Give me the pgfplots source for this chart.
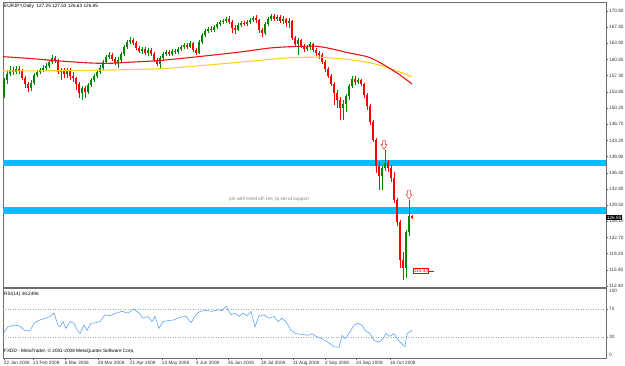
\documentclass[border=0pt]{standalone}
\usepackage{pgfplots}
\pgfplotsset{compat=1.18}
\usepackage{pgfplotstable}
\usepackage{fontspec}
\setmainfont{Liberation Sans}

\definecolor{cup}{RGB}{0,135,0}
\definecolor{cdn}{RGB}{255,0,0}
\definecolor{band}{RGB}{0,191,255}
\definecolor{maR}{RGB}{235,20,20}
\definecolor{maY}{RGB}{255,208,40}
\definecolor{rsic}{RGB}{90,165,255}
\definecolor{frm}{RGB}{110,110,110}
\newcommand\tf{\fontsize{4.7}{5}\selectfont}

\pgfdeclareplotmark{dnarrow}{%
 \pgfpathmoveto{\pgfqpoint{-1.3pt}{4.5pt}}%
 \pgfpathlineto{\pgfqpoint{-1.3pt}{0.5pt}}%
 \pgfpathlineto{\pgfqpoint{-3.2pt}{0.5pt}}%
 \pgfpathlineto{\pgfqpoint{0pt}{-4.5pt}}%
 \pgfpathlineto{\pgfqpoint{3.2pt}{0.5pt}}%
 \pgfpathlineto{\pgfqpoint{1.3pt}{0.5pt}}%
 \pgfpathlineto{\pgfqpoint{1.3pt}{4.5pt}}%
 \pgfpathclose
 \pgfusepathqfillstroke}

\pgfplotsset{candle/.style 2 args={draw=none, mark=none, forget plot,
  error bars/.cd, y dir=plus, y explicit, error mark=none,
  error bar style={draw=#1, line width=#2}}}

% up (bullish) candles: x open high low close
\pgfplotstableread{
x o h l c
4 152.97 156.58 152.33 156.15
7 156.15 158.27 155.30 157.43
10 157.43 159.12 157.00 158.27
16 157.85 159.12 157.43 158.49
31 154.45 156.15 153.82 155.52
34 155.52 157.64 155.09 157.21
37 157.21 158.27 156.79 157.85
40 157.85 158.70 157.43 158.27
43 158.27 159.34 157.85 158.70
46 158.70 159.76 158.27 159.12
49 159.12 160.40 158.70 159.97
52 159.97 161.46 159.55 160.82
61 157.85 158.70 156.15 158.27
67 157.43 158.70 156.58 158.27
82 153.39 154.88 151.90 154.45
88 153.60 155.52 153.18 155.09
91 155.09 156.58 154.67 156.15
94 156.15 157.43 155.73 157.00
97 157.00 158.27 156.58 157.85
100 157.85 159.34 157.43 158.70
103 158.70 160.40 158.27 159.97
106 159.97 161.46 159.55 161.04
109 161.04 162.10 160.61 161.46
118 159.76 161.04 158.70 160.40
121 160.40 162.10 159.97 161.67
124 161.67 163.58 161.25 163.16
127 163.16 164.64 162.73 164.22
130 164.22 165.28 163.79 164.64
142 162.31 163.16 161.67 162.73
148 161.88 162.95 161.25 162.52
160 159.55 161.25 158.49 160.82
163 160.82 162.10 160.40 161.67
166 161.67 162.52 161.25 162.10
172 161.67 162.73 161.25 162.31
178 162.10 163.16 161.67 162.73
181 162.73 163.58 162.31 163.16
184 163.16 164.01 162.73 163.58
190 163.16 164.43 162.95 164.01
199 161.88 164.64 161.67 164.22
202 164.22 166.13 163.79 165.70
205 165.70 166.98 165.28 166.55
208 166.55 167.40 166.13 166.98
214 166.77 167.83 166.34 167.40
217 167.40 168.46 166.98 168.04
220 168.04 168.89 167.61 168.46
223 168.46 169.10 168.04 168.68
226 168.68 169.53 168.25 169.10
238 166.77 168.25 166.55 167.83
241 167.83 168.68 167.40 168.25
247 168.04 168.89 167.61 168.46
250 168.46 169.32 168.04 168.89
253 168.89 169.74 168.46 169.32
265 166.13 168.46 165.70 168.04
268 168.04 169.53 167.61 169.10
271 169.10 170.17 168.68 169.74
277 169.10 169.95 168.68 169.53
283 168.68 169.74 168.04 169.10
289 168.25 169.32 167.19 168.68
298 163.79 165.07 161.46 164.64
307 162.73 163.58 162.31 163.16
310 163.16 164.22 162.52 163.79
343 150.20 151.90 147.65 151.05
346 151.05 153.18 149.35 152.75
349 152.75 155.30 151.90 154.88
352 154.88 157.00 154.45 156.36
358 155.73 156.58 155.30 156.15
382 135.76 138.09 132.79 137.46
385 137.46 141.29 136.82 138.52
406 116.22 124.29 114.10 123.87
409 123.87 130.66 123.02 127.25
}\tabup

% down (bearish) candles: x open high low close
\pgfplotstableread{
x o h l c
13 158.27 158.91 157.21 157.85
19 158.49 159.12 157.43 158.06
22 158.06 158.49 156.15 156.58
25 156.58 157.00 154.45 155.30
28 155.30 155.73 153.60 154.45
55 160.82 161.25 159.76 160.40
58 160.40 160.61 157.43 157.85
64 158.27 158.70 156.58 157.43
70 158.27 158.70 156.15 157.00
73 157.00 157.85 155.73 156.58
76 156.58 156.79 154.03 155.30
79 155.30 155.73 152.33 153.39
85 154.45 154.88 152.33 153.60
112 161.46 161.88 160.19 160.61
115 160.61 161.04 159.34 159.76
133 164.64 165.07 163.58 164.01
136 164.01 164.43 162.52 162.95
139 162.95 163.37 161.88 162.31
145 162.73 163.16 161.46 161.88
151 162.52 162.95 161.25 161.67
154 161.67 162.10 159.97 160.40
157 160.40 160.82 159.12 159.55
169 162.10 162.52 161.25 161.67
175 162.31 162.73 161.67 162.10
187 163.58 164.01 162.73 163.16
193 164.01 164.22 162.10 162.52
196 162.52 162.95 161.46 161.88
211 166.98 167.61 166.34 166.77
229 169.10 169.74 168.04 168.46
232 168.46 168.89 166.13 167.19
235 167.19 167.83 165.92 166.77
244 168.25 168.68 167.61 168.04
256 169.32 169.95 168.25 168.89
259 168.89 169.10 166.13 166.77
262 166.77 167.19 165.28 166.13
274 169.74 170.17 168.68 169.10
280 169.53 169.95 168.25 168.68
286 169.10 169.32 167.40 168.25
292 168.68 168.89 164.64 165.07
295 165.07 165.49 163.37 163.79
301 164.64 164.86 162.95 163.37
304 163.37 163.79 162.10 162.73
313 163.79 164.01 162.10 162.52
316 162.52 162.95 161.25 161.88
319 161.88 162.31 160.61 161.46
322 161.46 161.88 159.55 159.97
325 159.97 160.40 157.85 158.49
328 158.49 158.91 156.58 157.00
331 157.00 157.43 154.88 155.30
334 155.30 155.73 150.84 153.39
337 153.39 154.03 150.20 151.90
340 151.90 152.54 147.65 150.20
355 156.36 157.00 155.09 155.73
361 156.15 156.36 154.88 155.30
364 155.30 155.52 152.33 152.97
367 152.97 153.39 149.78 150.63
370 150.63 151.05 146.59 147.23
373 147.23 147.65 142.98 143.41
376 143.41 143.83 136.40 137.88
379 137.88 138.74 132.79 135.76
388 138.52 139.16 136.61 137.46
391 137.46 138.09 134.49 135.34
394 135.34 136.61 130.03 130.66
397 130.66 131.09 125.14 125.99
400 125.99 126.42 116.22 117.92
403 117.92 119.62 113.67 116.22
412 127.25 127.53 126.63 126.85
}\tabdn

\begin{document}
\begin{tikzpicture}[x=1pt,y=1pt]
\path[use as bounding box] (0,0) rectangle (625,366);

% ---------------- main price panel ----------------
\begin{axis}[
  at={(3pt,79pt)}, anchor=south west,
  scale only axis, width=603pt, height=285pt,
  xmin=3, xmax=606, ymin=112.19, ymax=172.71,
  axis line style={frm, line width=0.8pt},
  clip mode=individual,
  xtick=\empty,
  ytick pos=right, tick align=outside, major tick length=2pt,
  tick style={frm, line width=0.4pt},
  ytick={170.80,167.365,163.929,160.494,157.059,153.624,150.188,146.753,143.318,139.882,136.447,133.012,129.576,126.141,122.706,119.271,115.835,112.40},
  yticklabels={170.80,167.40,163.90,160.50,157.30,153.80,150.20,146.70,143.20,139.90,136.40,132.80,129.50,126.10,122.70,119.20,115.80,112.40},
  yticklabel style={font=\tf, anchor=west, inner sep=1pt, text=black!80},
]
% support / resistance bands
\addplot[band, line width=6.5pt, forget plot] coordinates {(3,138.52) (606,138.52)};
\addplot[band, line width=7pt, forget plot] coordinates {(3,128.43) (606,128.43)};

% candles: wicks
\addplot[candle={cup}{0.6pt}] table[x=x, y=l, y error expr=\thisrow{h}-\thisrow{l}] {\tabup};
\addplot[candle={cdn}{0.6pt}] table[x=x, y=l, y error expr=\thisrow{h}-\thisrow{l}] {\tabdn};
% candles: bodies
\addplot[candle={cup}{1.8pt}] table[x=x, y=o, y error expr=\thisrow{c}-\thisrow{o}] {\tabup};
\addplot[candle={cdn}{1.8pt}] table[x=x, y=c, y error expr=\thisrow{o}-\thisrow{c}] {\tabdn};

% moving averages
\addplot[maY, line width=1.1pt, smooth, forget plot] coordinates {
(3,158.06) (80,158.16) (160,158.55) (220,159.55) (280,160.71) (300,160.93) (320,160.97)
(347,160.54) (367,159.91) (377,159.44) (387,158.76) (400,157.85) (412,156.85)};
\addplot[maR, line width=1.1pt, smooth, forget plot] coordinates {
(3,161.10) (30,160.71) (60,160.18) (90,159.76) (110,159.69) (130,159.93) (160,160.29)
(200,161.14) (240,162.09) (270,162.94) (295,163.26) (315,163.33) (330,162.84)
(347,161.99) (367,161.10) (377,160.18) (387,158.97) (400,157.21) (412,155.30)};

% arrows
\addplot[only marks, mark=dnarrow, mark options={draw=red!80, fill=white, line width=0.5pt}, forget plot]
  coordinates {(384,142.34) (409,131.83)};

% annotations
\node[font=\tf, text=black!50, anchor=west, inner sep=0pt] at (axis cs:229,130.88) {pin with trend off, res, tp set at support};
\draw[red, line width=0.5pt] (axis cs:425,115.59) -- (axis cs:434,115.59);
\node[font=\tf, text=red, draw=red, fill=white, line width=0.4pt, inner sep=0.7pt, anchor=west] at (axis cs:413,115.59) {115.43};
\node[font=\tf, text=white, fill=black, inner sep=0.8pt, anchor=west] at (axis cs:606,126.85) {126.85};
\end{axis}

% ---------------- RSI panel ----------------
\begin{axis}[
  at={(3pt,8pt)}, anchor=south west,
  scale only axis, width=603pt, height=70pt,
  xmin=3, xmax=606, ymin=0, ymax=100,
  axis line style={frm, line width=0.8pt},
  clip mode=individual,
  ytick pos=right, xtick pos=lower, tick align=outside, major tick length=2pt,
  tick style={frm, line width=0.4pt},
  ytick={30,70}, yticklabels={30,70},
  yticklabel style={font=\tf, anchor=west, inner sep=1pt, text=black!80},
  xtick={4,33,65,98,130,162,196,228,261,293,325,356,390},
  xticklabels={22 Jan 2008,13 Feb 2008,6 Mar 2008,28 Mar 2008,21 Apr 2008,13 May 2008,4 Jun 2008,26 Jun 2008,18 Jul 2008,11 Aug 2008,2 Sep 2008,24 Sep 2008,16 Oct 2008},
  xticklabel style={font=\tf, anchor=north west, inner sep=0.8pt, xshift=-1pt, text=black!80},
]
\addplot[black!35, dotted, line width=0.5pt, forget plot] coordinates {(3,70) (606,70)};
\addplot[black!35, dotted, line width=0.5pt, forget plot] coordinates {(3,30) (606,30)};
\addplot[rsic, line width=0.6pt, forget plot] coordinates {
(4,37) (8,44.6) (14,47) (20,45.6) (24,39.7) (30,38.7) (34,49.5) (40,54.4) (46,56.9) (50,59.3)
(54,64.2) (58,47) (60,44.6) (63,51.9) (66,42.2) (70,51.9) (74,49.5) (77,40.7) (80,34.8) (84,47)
(87,39.7) (91,49.5) (96,50.5) (100,52) (105,61.8) (110,60.3) (116,64.2) (122,66.6) (128,64.2)
(134,70) (139,64.2) (143,56.9) (148,59.3) (152,51.9) (155,59.3) (159,42.2) (163,51.9) (168,53.4)
(174,54.4) (180,58.3) (186,59.3) (191,50.5) (196,61.8) (200,66.6) (206,68) (212,66.6) (218,69)
(222,67.6) (226,74) (231,61.8) (235,64.2) (239,59.3) (243,64.2) (247,60.3) (251,66.6) (255,44.6)
(259,60.3) (264,61.8) (269,56.9) (274,59.3) (278,51.9) (282,56.9) (286,51.9) (291,39.7) (296,34.8)
(302,33.8) (308,32.4) (312,34.8) (316,30.9) (322,27.5) (328,22.5) (334,16.2) (339,15.1) (342,32.4)
(345,27.5) (350,37.2) (354,47) (358,49.5) (362,47) (365,39.7) (370,34.8) (374,25) (379,22.5)
(383,27.5) (386,34.8) (390,30.9) (394,34.8) (398,26) (402,20.1) (405,16.2) (407,34.8) (410,37.2) (412,39.7)};
\node[font=\tf, anchor=north west, inner sep=1pt, text=black!80] at (rel axis cs:1,1) {\hspace{2pt}100};
\node[font=\tf, anchor=south west, inner sep=1pt, text=black!80] at (rel axis cs:1,0) {\hspace{2pt}0};
\end{axis}

% texts
\node[font=\tf, anchor=west, inner sep=0pt] at (4,359.5) {EURJPY,Daily\ \ 127.25 127.53 126.63 126.85};
\node[font=\tf, anchor=west, inner sep=0pt] at (4,72) {RSI(14) 38.2496};
\node[font=\tf, anchor=west, inner sep=0pt] at (4,15) {FXDD - MetaTrader, © 2001-2008 MetaQuotes Software Corp.};
\end{tikzpicture}
\end{document}
